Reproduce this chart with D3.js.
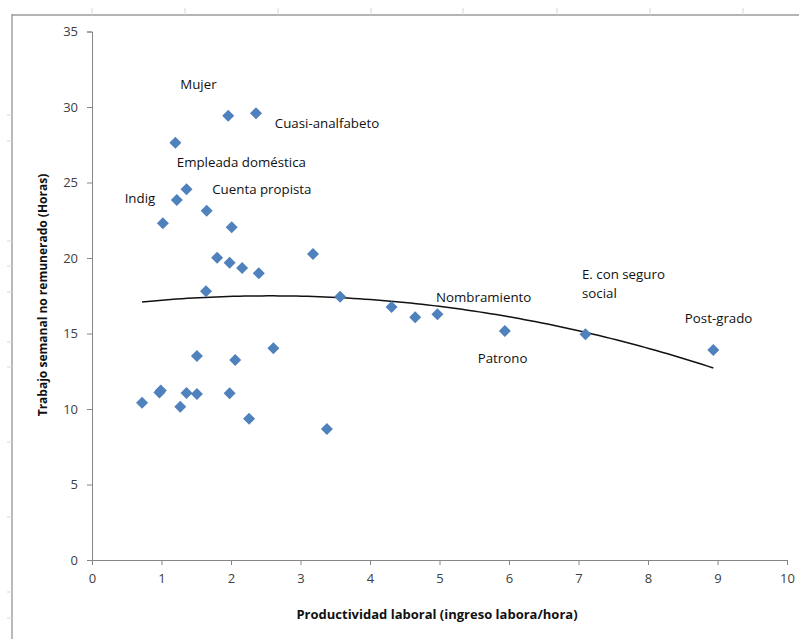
<!DOCTYPE html>
<html>
<head>
<meta charset="utf-8">
<script src="https://cdn.jsdelivr.net/npm/d3@7"></script>
<style>
  body { margin: 0; background: #fff; }
  svg text { font-family: "Open Sans", "Noto Sans", sans-serif; }
</style>
</head>
<body>
<script>
// productividad laboral (ingreso/hora)
const prodX = [0.72, 0.97, 0.99, 1.27, 1.36, 1.51, 1.51, 1.98, 2.06, 2.26, 2.61, 3.38,
    1.96, 2.36, 1.20, 1.36, 1.22, 1.65, 1.02, 2.01, 1.80, 1.98, 2.16, 2.40, 3.18, 1.64,
    3.57, 4.31, 4.65, 4.97, 5.94, 7.10, 8.94];
// trabajo semanal no remunerado (horas)
const horasY = [10.42, 11.10, 11.22, 10.15, 11.06, 10.99, 13.51, 11.04, 13.25, 9.36, 14.02, 8.68,
    29.42, 29.58, 27.64, 24.55, 23.84, 23.13, 22.30, 22.03, 20.02, 19.69, 19.34, 18.99, 20.26, 17.79,
    17.44, 16.75, 16.07, 16.27, 15.17, 14.95, 13.91];

// etiquetas (texto, x, y en unidades de datos)
const etiquetas = ["Mujer", "Cuasi-analfabeto", "Empleada doméstica", "Cuenta propista", "Indig",
    "Nombramiento", "E. con seguro", "social", "Post-grado", "Patrono"];
const etiqX = [1.27, 2.63, 1.22, 1.73, 0.47, 4.95, 7.05, 7.05, 8.53, 5.55];
const etiqY = [31.52, 28.94, 26.36, 24.57, 23.97, 17.42, 18.94, 17.68, 16.03, 13.38];

const xTicks = [0, 1, 2, 3, 4, 5, 6, 7, 8, 9, 10];
const yTicks = [0, 5, 10, 15, 20, 25, 30, 35];

const W = 799, H = 639;
const svg = d3.select("body").append("svg")
    .attr("width", W).attr("height", H);

// marco de la hoja
svg.append("line").attr("x1", 12).attr("x2", W).attr("y1", 15).attr("y2", 15)
    .attr("stroke", "#b4b4b4").attr("stroke-width", 2);
svg.append("line").attr("x1", 12).attr("x2", 12).attr("y1", 14).attr("y2", H)
    .attr("stroke", "#8c8c8c").attr("stroke-width", 1.2);
[92, 185, 278, 371, 463, 557, 650, 743].forEach(t => {
  svg.append("line").attr("x1", t).attr("x2", t).attr("y1", 8).attr("y2", 15)
      .attr("stroke", "#d4d8e4").attr("stroke-width", 1);
});
[115, 141, 241, 266, 292, 342, 367, 442, 517, 592, 618].forEach(t => {
  svg.append("line").attr("x1", 7).attr("x2", 12).attr("y1", t).attr("y2", t)
      .attr("stroke", "#d4d8e4").attr("stroke-width", 1);
});

const x = d3.scaleLinear().domain([0, 10]).range([92, 787]);
const y = d3.scaleLinear().domain([0, 35]).range([560, 31.5]);

// ejes
const gx = svg.append("g").attr("transform", "translate(0,560)")
    .call(d3.axisBottom(x).tickValues(xTicks).tickSize(5).tickPadding(9));
const gy = svg.append("g").attr("transform", "translate(92,0)")
    .call(d3.axisLeft(y).tickValues(yTicks).tickSize(5).tickPadding(9));
[gx, gy].forEach(g => {
  g.select(".domain").attr("stroke", "#868686");
  g.selectAll(".tick line").attr("stroke", "#868686");
  g.selectAll(".tick text").attr("fill", "#404040").style("font-size", "13px");
});

// línea de tendencia polinómica (grado 2, mínimos cuadrados)
const n = prodX.length;
let S = Array(5).fill(0), T = Array(3).fill(0);
for (let i = 0; i < n; i++) {
  for (let k = 0; k < 5; k++) S[k] += Math.pow(prodX[i], k);
  for (let k = 0; k < 3; k++) T[k] += horasY[i] * Math.pow(prodX[i], k);
}
function solve3(A, b) {
  const M = A.map((r, i) => r.concat([b[i]]));
  for (let c = 0; c < 3; c++) {
    for (let r = c + 1; r < 3; r++) {
      const f = M[r][c] / M[c][c];
      for (let k = c; k < 4; k++) M[r][k] -= f * M[c][k];
    }
  }
  const s = [0, 0, 0];
  for (let r = 2; r >= 0; r--) {
    let v = M[r][3];
    for (let k = r + 1; k < 3; k++) v -= M[r][k] * s[k];
    s[r] = v / M[r][r];
  }
  return s;
}
const coef = solve3([[S[0], S[1], S[2]], [S[1], S[2], S[3]], [S[2], S[3], S[4]]], T);
const xmin = d3.min(prodX), xmax = d3.max(prodX);
const trend = d3.range(0, 101).map(i => {
  const xv = xmin + (xmax - xmin) * i / 100;
  return [xv, coef[0] + coef[1] * xv + coef[2] * xv * xv];
});
svg.append("path").datum(trend)
    .attr("fill", "none").attr("stroke", "#111").attr("stroke-width", 1.5)
    .attr("d", d3.line().x(d => x(d[0])).y(d => y(d[1])));

// puntos
svg.selectAll(".pt").data(prodX.map((v, i) => [v, horasY[i]]))
  .enter().append("path")
    .attr("class", "pt")
    .attr("d", d3.symbol(d3.symbolSquare, 72)())
    .attr("transform", d => `translate(${x(d[0])},${y(d[1])}) rotate(45)`)
    .attr("fill", "#4f81bd");

// etiquetas
svg.selectAll(".lab").data(etiquetas)
  .enter().append("text")
    .attr("class", "lab")
    .attr("x", (d, i) => x(etiqX[i]))
    .attr("y", (d, i) => y(etiqY[i]))
    .attr("dy", "0.35em")
    .attr("fill", "#111")
    .style("font-size", "13.3px")
    .text(d => d);

// títulos de ejes
svg.append("text")
    .attr("x", 437).attr("y", 614)
    .attr("text-anchor", "middle")
    .attr("dy", "0.35em")
    .style("font-size", "13px").style("font-weight", "bold")
    .attr("fill", "#111")
    .text("Productividad laboral (ingreso labora/hora)");
svg.append("text")
    .attr("transform", "translate(43,295) rotate(-90)")
    .attr("text-anchor", "middle")
    .attr("dy", "0.35em")
    .style("font-size", "12px").style("font-weight", "bold")
    .attr("fill", "#111")
    .text("Trabajo semanal no remunerado  (Horas)");
</script>
</body>
</html>
